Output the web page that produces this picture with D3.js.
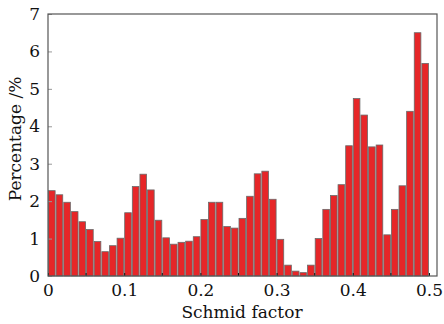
<!DOCTYPE html>
<html>
<head>
<meta charset="utf-8">
<script src="https://cdn.jsdelivr.net/npm/d3@7"></script>
<style>
  body { margin: 0; background: #fff; }
  text { font-family: "DejaVu Serif", serif; fill: #111; }
</style>
</head>
<body>
<svg id="chart" width="444" height="324"></svg>
<script>
// bin start (Schmid factor), bin width 0.01
const binStarts = d3.range(50).map(i => +(i * 0.01).toFixed(2));
const percentages = [
    2.28, 2.17, 1.97, 1.72, 1.45, 1.24, 0.92, 0.65, 0.81, 1.01,
    1.69, 2.39, 2.72, 2.30, 1.49, 1.02, 0.85, 0.90, 0.93, 1.05,
    1.51, 1.97, 1.97, 1.32, 1.28, 1.54, 2.13, 2.73, 2.80, 2.05,
    0.98, 0.29, 0.13, 0.09, 0.29, 1.00, 1.78, 2.15, 2.44, 3.48,
    4.74, 4.30, 3.45, 3.50, 1.10, 1.78, 2.41, 4.40, 6.50, 5.68
];
const xTicks = [0, 0.1, 0.2, 0.3, 0.4, 0.5];
const xMinorTicks = [0.05, 0.15, 0.25, 0.35, 0.45];
const yTicks = [0, 1, 2, 3, 4, 5, 6, 7];

const data = binStarts.map((b, i) => ({bin: b, val: percentages[i]}));

const svg = d3.select("#chart"),
    margin = {top: 14, right: 7, bottom: 48, left: 48},
    width = +svg.attr("width"),
    height = +svg.attr("height");

const x = d3.scaleLinear()
    .domain([0, 0.5105])
    .range([margin.left, width - margin.right]);

const y = d3.scaleLinear()
    .domain([0, 7])
    .range([height - margin.bottom, margin.top]);

const binW = 0.01;

// bars
svg.append("g")
    .selectAll("rect")
    .data(data)
    .join("rect")
    .attr("x", d => x(d.bin) + 0.5)
    .attr("width", d => x(d.bin + binW) - x(d.bin) - 1)
    .attr("y", d => y(d.val))
    .attr("height", d => y(0) - y(d.val))
    .attr("fill", "#e62628")
    .attr("stroke", "#6a6a6a")
    .attr("stroke-width", 0.8);

// x axis
const xAxis = svg.append("g")
    .attr("transform", "translate(0," + y(0) + ")")
    .call(d3.axisBottom(x).tickValues(xTicks).tickSize(-3).tickPadding(8)
        .tickFormat(d => d === 0 ? "0" : d3.format(".1f")(d)));
xAxis.append("g").selectAll("line")
    .data(xMinorTicks)
    .join("line")
    .attr("x1", d => x(d)).attr("x2", d => x(d))
    .attr("y1", 0).attr("y2", -3)
    .attr("stroke", "#111");
xAxis.select(".domain").remove();
xAxis.selectAll(".tick line").attr("stroke", "#111");
xAxis.selectAll("text").attr("font-size", 17).attr("font-family", "DejaVu Serif");

// y axis
const yAxis = svg.append("g")
    .attr("transform", "translate(" + margin.left + ",0)")
    .call(d3.axisLeft(y).tickValues(yTicks).tickSize(-4).tickPadding(8)
        .tickFormat(d3.format("d")));
yAxis.select(".domain").remove();
yAxis.selectAll(".tick line").attr("stroke", "#999");
yAxis.selectAll("text").attr("font-size", 17).attr("font-family", "DejaVu Serif");

// frame
svg.append("rect")
    .attr("x", margin.left)
    .attr("y", margin.top)
    .attr("width", width - margin.right - margin.left)
    .attr("height", y(0) - margin.top)
    .attr("fill", "none")
    .attr("stroke", "#555")
    .attr("stroke-width", 1.2);

// axis titles
svg.append("text")
    .attr("x", 242)
    .attr("y", 318)
    .attr("text-anchor", "middle")
    .attr("font-size", 17)
    .text("Schmid factor");

svg.append("text")
    .attr("transform", "translate(21,139) rotate(-90)")
    .attr("text-anchor", "middle")
    .attr("font-size", 17)
    .text("Percentage /%");
</script>
</body>
</html>
